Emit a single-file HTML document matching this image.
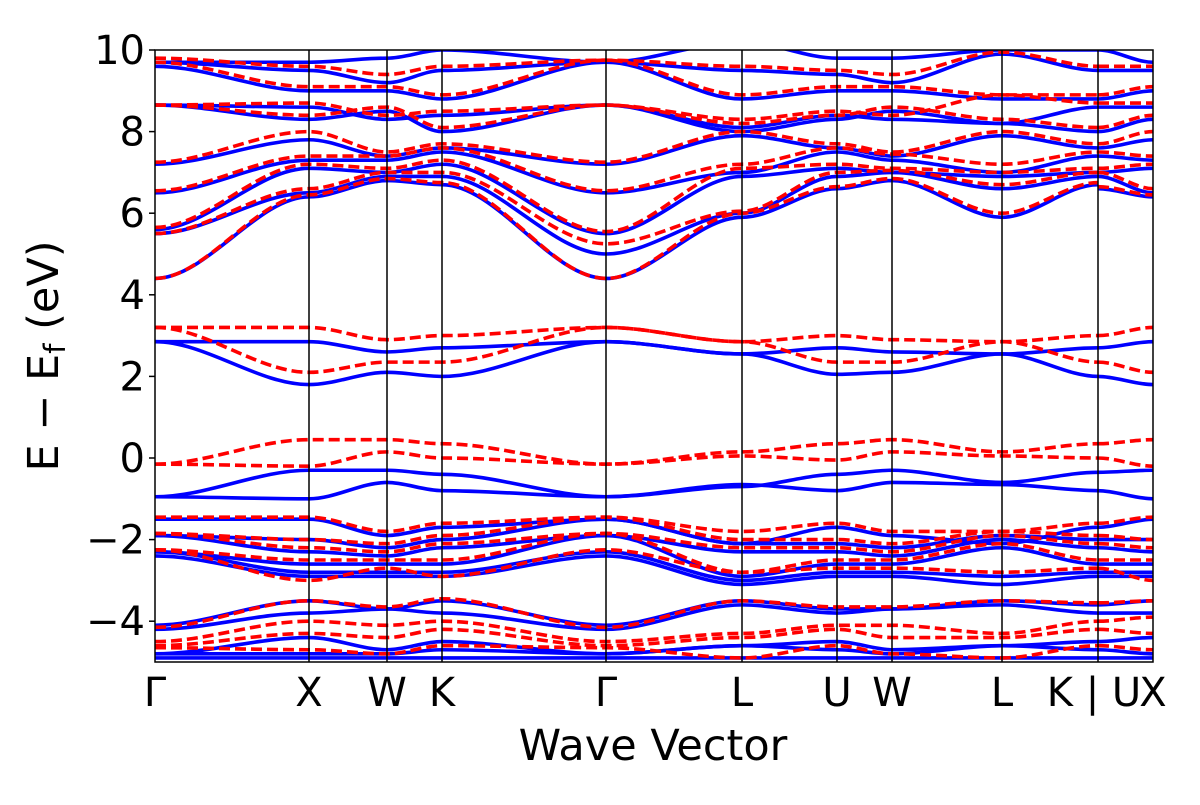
<!DOCTYPE html>
<html><head><meta charset="utf-8"><style>
body{margin:0;background:#fff;}
svg text{font-family:"DejaVu Sans","Liberation Sans",sans-serif;fill:#000;}
</style></head><body>
<svg id="chart" width="1200" height="800" viewBox="0 0 1200 800" xmlns="http://www.w3.org/2000/svg">
<defs><clipPath id="clip"><rect x="155" y="50" width="998" height="612"/></clipPath></defs>
<g id="bands" clip-path="url(#clip)"></g>
<g id="vlines"></g>
<rect x="155" y="50" width="998" height="612" fill="none" stroke="#000" stroke-width="1.5"/>
<g id="yaxis"></g>
<g id="xaxis"></g>
<text x="653" y="760" font-size="43" text-anchor="middle">Wave Vector</text>
<text transform="translate(58,356) rotate(-90)" font-size="43" text-anchor="middle">E − E<tspan font-size="29" dy="7">f</tspan><tspan dy="-7"> (eV)</tspan></text>
</svg>
<script>
const kpos = [0,154,232,287,451,587,682,737,847,943,943,998];
const kLabels = ["Γ","X","W","K","Γ","L","U","W","L","K | U","","X"];
const yTicks = [10,8,6,4,2,0,-2,-4];
const breakAfter = 9;
const blueBands = [
[-0.95,-1.0,-0.6,-0.8,-0.95,-0.65,-0.8,-0.6,-0.65,-0.8,-0.8,-1.0],
[-0.95,-0.3,-0.3,-0.4,-0.95,-0.7,-0.4,-0.3,-0.6,-0.35,-0.35,-0.3],
[2.85,1.8,2.1,2.0,2.85,2.55,2.05,2.1,2.55,2.0,2.0,1.8],
[2.85,2.85,2.6,2.7,2.85,2.55,2.7,2.6,2.55,2.7,2.7,2.85],
[4.4,6.4,6.8,6.7,4.4,5.9,6.6,6.8,5.9,6.7,6.6,6.4],
[5.5,6.5,6.9,6.9,5.0,6.0,6.9,7.0,6.6,6.9,6.9,6.5],
[5.6,7.1,7.0,7.2,5.5,6.9,7.1,7.0,6.9,7.0,7.0,7.1],
[6.5,7.3,7.3,7.5,6.5,7.0,7.5,7.3,7.0,7.4,7.4,7.3],
[7.2,7.8,7.4,7.6,7.2,7.9,7.6,7.4,7.9,7.6,7.6,7.8],
[8.65,8.3,8.5,8.0,8.65,8.0,8.3,8.5,8.2,8.0,8.0,8.3],
[8.65,8.6,8.3,8.4,8.65,8.1,8.4,8.3,8.2,8.6,8.6,8.6],
[9.6,9.0,9.0,8.8,9.7,8.8,9.0,9.0,8.8,8.8,8.8,9.0],
[9.7,9.5,9.2,9.5,9.7,9.5,9.4,9.2,9.9,9.5,9.5,9.5],
[9.7,9.7,9.8,10,9.7,10.2,9.8,9.8,10,10,10,9.7],
[-1.5,-1.5,-1.9,-1.7,-1.5,-2.1,-1.7,-1.9,-2.1,-1.7,-1.7,-1.5],
[-1.9,-2.0,-2.2,-2.0,-1.5,-2.1,-2.1,-2.2,-1.9,-2.0,-2.0,-2.0],
[-1.9,-2.3,-2.4,-2.2,-1.9,-2.3,-2.3,-2.4,-2.0,-2.2,-2.2,-2.3],
[-2.3,-2.6,-2.6,-2.6,-1.9,-2.9,-2.6,-2.6,-2.2,-2.6,-2.6,-2.6],
[-2.3,-2.8,-2.8,-2.8,-2.3,-3.0,-2.8,-2.8,-2.9,-2.8,-2.8,-2.8],
[-2.4,-2.9,-2.9,-2.9,-2.4,-3.1,-2.9,-2.9,-3.1,-2.9,-2.9,-2.9],
[-4.1,-3.5,-3.7,-3.5,-4.1,-3.5,-3.7,-3.7,-3.5,-3.6,-3.6,-3.5],
[-4.2,-3.8,-3.7,-3.8,-4.2,-3.6,-3.8,-3.7,-3.6,-3.8,-3.8,-3.8],
[-4.8,-4.4,-4.7,-4.5,-4.8,-4.6,-4.5,-4.7,-4.6,-4.5,-4.5,-4.4],
[-4.8,-4.8,-4.8,-4.7,-4.8,-4.6,-4.7,-4.8,-4.6,-4.7,-4.7,-4.8],
[-4.9,-4.9,-4.9,-4.9,-4.9,-4.9,-4.9,-4.9,-4.9,-4.9,-4.9,-4.9]
];
const redBands = [
[-0.15,0.45,0.45,0.35,-0.15,0.15,0.35,0.45,0.15,0.35,0.35,0.45],
[-0.15,-0.2,0.15,0.0,-0.15,0.05,-0.05,0.15,0.05,0.0,0.0,-0.2],
[3.2,3.2,2.9,3.0,3.2,2.85,3.0,2.9,2.85,3.0,3.0,3.2],
[3.2,2.1,2.35,2.35,3.2,2.85,2.35,2.35,2.85,2.35,2.35,2.1],
[4.4,6.45,6.85,6.75,4.4,6.0,6.65,6.85,6.0,6.75,6.65,6.45],
[5.5,6.6,7.0,7.0,5.25,6.05,7.0,7.05,6.7,7.0,7.0,6.6],
[5.65,7.2,7.1,7.3,5.55,7.1,7.2,7.1,7.0,7.1,7.1,7.2],
[6.55,7.4,7.4,7.6,6.55,7.2,7.6,7.45,7.2,7.5,7.5,7.4],
[7.25,8.0,7.5,7.7,7.25,8.0,7.7,7.5,8.0,7.7,7.7,8.0],
[8.65,8.4,8.6,8.1,8.65,8.2,8.4,8.6,8.3,8.1,8.1,8.4],
[8.65,8.7,8.4,8.5,8.65,8.3,8.5,8.4,8.9,8.7,8.7,8.7],
[9.7,9.1,9.1,8.9,9.75,8.9,9.1,9.1,8.9,8.9,8.9,9.1],
[9.8,9.6,9.4,9.6,9.75,9.6,9.5,9.4,9.95,9.6,9.6,9.6],
[-1.45,-1.45,-1.8,-1.6,-1.45,-1.8,-1.6,-1.8,-1.8,-1.6,-1.6,-1.45],
[-1.85,-2.0,-2.1,-1.9,-1.45,-2.0,-2.0,-2.1,-1.8,-1.9,-1.9,-2.0],
[-1.85,-2.2,-2.3,-2.1,-1.85,-2.2,-2.2,-2.3,-1.9,-2.1,-2.1,-2.2],
[-2.25,-2.5,-2.5,-2.5,-1.85,-2.8,-2.5,-2.5,-2.1,-2.5,-2.5,-2.5],
[-2.25,-3.0,-2.7,-2.9,-2.25,-2.8,-2.7,-2.7,-2.8,-2.7,-2.7,-3.0],
[-4.15,-3.5,-3.65,-3.45,-4.15,-3.5,-3.65,-3.65,-3.5,-3.55,-3.55,-3.5],
[-4.5,-4.0,-4.1,-4.0,-4.5,-4.3,-4.1,-4.1,-4.3,-4.0,-4.0,-3.9],
[-4.6,-4.3,-4.4,-4.2,-4.6,-4.4,-4.2,-4.4,-4.4,-4.2,-4.2,-4.3],
[-4.65,-4.7,-4.8,-4.6,-4.65,-4.9,-4.6,-4.8,-4.9,-4.6,-4.6,-4.7]
];
const X0=155,Y0=50,W=998,H=612,ymin=-5,ymax=10;
const sx=k=>X0+k;
const sy=e=>Y0+(ymax-e)/(ymax-ymin)*H;
const NS="http://www.w3.org/2000/svg";
function pathFor(b){
  let d="M"+sx(kpos[0])+","+sy(b[0]);
  for(let i=1;i<b.length;i++){
    const x0=sx(kpos[i-1]),x1=sx(kpos[i]),y0=sy(b[i-1]),y1=sy(b[i]);
    if(i-1===breakAfter){d+=" M"+x1+","+y1;continue;}
    const dx=(x1-x0)/3;
    d+=" C"+(x0+dx)+","+y0+" "+(x1-dx)+","+y1+" "+x1+","+y1;
  }
  return d;
}
const g=document.getElementById("bands");
blueBands.forEach((b,i)=>{
  const p=document.createElementNS(NS,"path");
  
  
  p.setAttribute("d",pathFor(b));p.setAttribute("fill","none");
  p.setAttribute("stroke","#0000ff");p.setAttribute("stroke-width","3.6");
  g.appendChild(p);
});
redBands.forEach((b,i)=>{
  const p=document.createElementNS(NS,"path");
  
  
  p.setAttribute("d",pathFor(b));p.setAttribute("fill","none");
  p.setAttribute("stroke","#ff0000");p.setAttribute("stroke-width","3.6");
  p.setAttribute("stroke-dasharray","11,5");
  g.appendChild(p);
});
const vl=document.getElementById("vlines");
kpos.forEach((k,i)=>{
  if(i===0||i===kpos.length-1||i===10)return;
  const l=document.createElementNS(NS,"line");
  
  
  l.setAttribute("x1",sx(k));l.setAttribute("x2",sx(k));
  l.setAttribute("y1",Y0);l.setAttribute("y2",Y0+H);
  l.setAttribute("stroke","#000");l.setAttribute("stroke-width","1.5");
  vl.appendChild(l);
});
const ya=document.getElementById("yaxis");
yTicks.forEach(v=>{
  const l=document.createElementNS(NS,"line");
  
  
  l.setAttribute("x1",X0-6);l.setAttribute("x2",X0);
  l.setAttribute("y1",sy(v));l.setAttribute("y2",sy(v));
  l.setAttribute("stroke","#000");l.setAttribute("stroke-width","1.5");
  ya.appendChild(l);
  const t=document.createElementNS(NS,"text");
  
  
  t.setAttribute("x",X0-10);t.setAttribute("y",sy(v)+14);
  t.setAttribute("font-size","40");t.setAttribute("text-anchor","end");
  t.textContent=v<0?"−"+Math.abs(v):String(v);
  ya.appendChild(t);
});
const xa=document.getElementById("xaxis");
kpos.forEach((k,i)=>{
  if(!kLabels[i])return;
  const t=document.createElementNS(NS,"text");
  
  
  t.setAttribute("x",sx(k)-(i===9?4:0));t.setAttribute("y",706);
  t.setAttribute("font-size","40");t.setAttribute("text-anchor","middle");
  t.textContent=kLabels[i];
  xa.appendChild(t);
});
</script>
</body></html>
